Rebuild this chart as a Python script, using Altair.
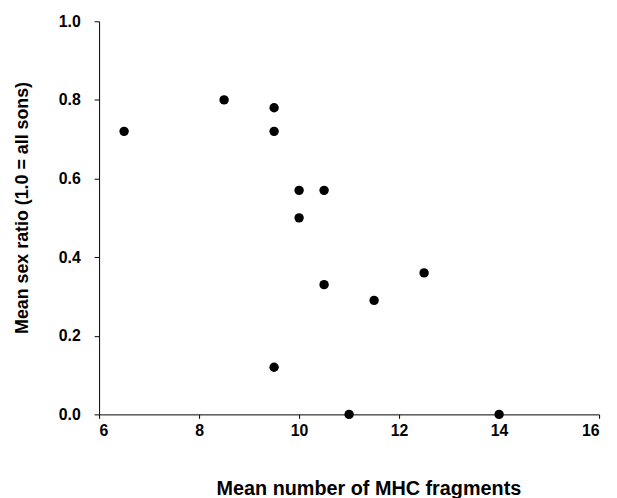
import altair as alt
import pandas as pd

mhc = [6.5, 8.5, 9.5, 9.5, 9.5, 10.0, 10.0, 10.5, 10.5, 11.0, 11.5, 12.5, 14.0]
sex_ratio = [0.72, 0.80, 0.78, 0.72, 0.12, 0.57, 0.50, 0.57, 0.33, 0.0, 0.29, 0.36, 0.0]

df = pd.DataFrame({"mhc": mhc, "ratio": sex_ratio})

font = "Liberation Sans"

chart = alt.Chart(df).mark_circle(color="black", opacity=1, size=90).encode(
    x=alt.X("mhc:Q",
            scale=alt.Scale(domain=[6, 16], nice=False, zero=False),
            axis=alt.Axis(title="Mean number of MHC fragments", values=[6, 8, 10, 12, 14, 16],
                          format="d", grid=False, tickSize=4, labelPadding=4,
                          titleX=272, titleY=81, titleBaseline="alphabetic",
                          titleFontSize=20, labelFontSize=16,
                          labelFontWeight="bold", titleFontWeight="bold",
                          labelFont=font, titleFont=font, domainColor="black",
                          tickColor="black", labelColor="black", titleColor="black")),
    y=alt.Y("ratio:Q",
            scale=alt.Scale(domain=[0, 1], nice=False),
            axis=alt.Axis(title="Mean sex ratio (1.0 = all sons)", values=[0, 0.2, 0.4, 0.6, 0.8, 1.0],
                          format=".1f", grid=False, tickSize=5, labelPadding=14,
                          titleX=-72, titleY=188, titleBaseline="alphabetic",
                          titleFontSize=18, labelFontSize=16,
                          labelFontWeight="bold", titleFontWeight="bold",
                          labelFont=font, titleFont=font, domainColor="black",
                          tickColor="black", labelColor="black", titleColor="black")),
).properties(
    width=505, height=397,
    autosize=alt.AutoSizeParams(type="none"),
    padding={"left": 92, "top": 11, "right": 10, "bottom": 82},
).configure_view(stroke=None)

chart.save("out.html", embed_options={"renderer": "svg", "actions": False})
